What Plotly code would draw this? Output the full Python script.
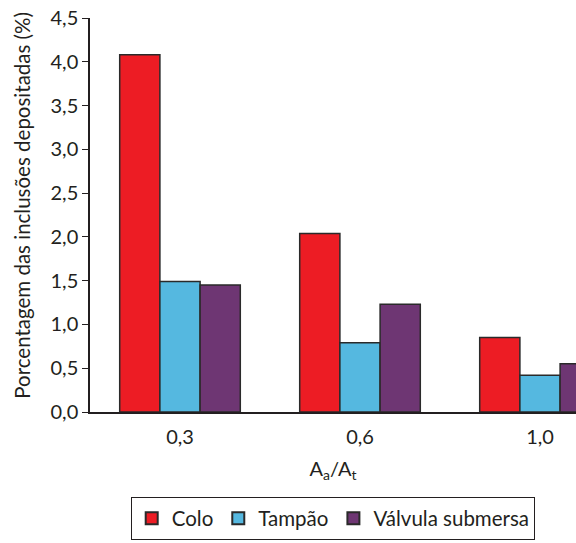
import plotly.graph_objects as go

categories = ["0,3", "0,6", "1,0"]
colo = [4.08, 2.04, 0.85]
tampao = [1.49, 0.79, 0.42]
valvula = [1.45, 1.23, 0.55]
series_names = ["Colo", "Tampão", "Válvula submersa"]
colors = ["#ED1C24", "#55B8E0", "#6E3673"]
y_title = "Porcentagem das inclusões depositadas (%)"
x_title = "A<sub>a</sub>/A<sub>t</sub>"

fig = go.Figure()
for name, vals, col in zip(series_names, [colo, tampao, valvula], colors):
    fig.add_trace(go.Bar(
        x=categories, y=vals, name=name,
        marker=dict(color=col, line=dict(color="#2a2a2a", width=1.5)),
    ))

font_family = "Lato, 'Open Sans', sans-serif"
fig.update_layout(
    width=576, height=543,
    barmode="group", bargap=0.33, bargroupgap=0,
    separators=",.",
    paper_bgcolor="white", plot_bgcolor="white",
    margin=dict(l=90, r=0, t=18, b=131, pad=0, autoexpand=False),
    font=dict(family=font_family, size=20, color="#231f20"),
    xaxis=dict(
        range=[-0.5, 2.2], showline=True, linecolor="#231f20", linewidth=1.5,
        ticks="", showgrid=False, ticklabelstandoff=6, automargin=False,
        tickfont=dict(size=20),
        title=dict(text=x_title, font=dict(size=20), standoff=15),
    ),
    yaxis=dict(
        range=[0, 4.5], dtick=0.5, tickformat=".1f", automargin=False,
        showline=True, linecolor="#231f20", linewidth=1.5,
        ticks="outside", ticklen=6, tickcolor="#231f20", tickwidth=1.2,
        showgrid=False, zeroline=False, tickfont=dict(size=20),
    ),
    legend=dict(
        orientation="h", x=0.5, xanchor="center", y=-0.216, yanchor="top",
        bordercolor="#231f20", borderwidth=1.2, font=dict(size=20.5),
        itemsizing="constant", tracegroupgap=0,
    ),
    showlegend=True,
)
fig.add_annotation(
    text=y_title, textangle=-90, showarrow=False,
    xref="paper", yref="paper", x=-0.1399, y=0.5236, xanchor="center", yanchor="middle",
    font=dict(size=20.5),
)

fig.write_html("out.html", config={"displayModeBar": False},
               post_script="document.body.style.margin='0px';")
